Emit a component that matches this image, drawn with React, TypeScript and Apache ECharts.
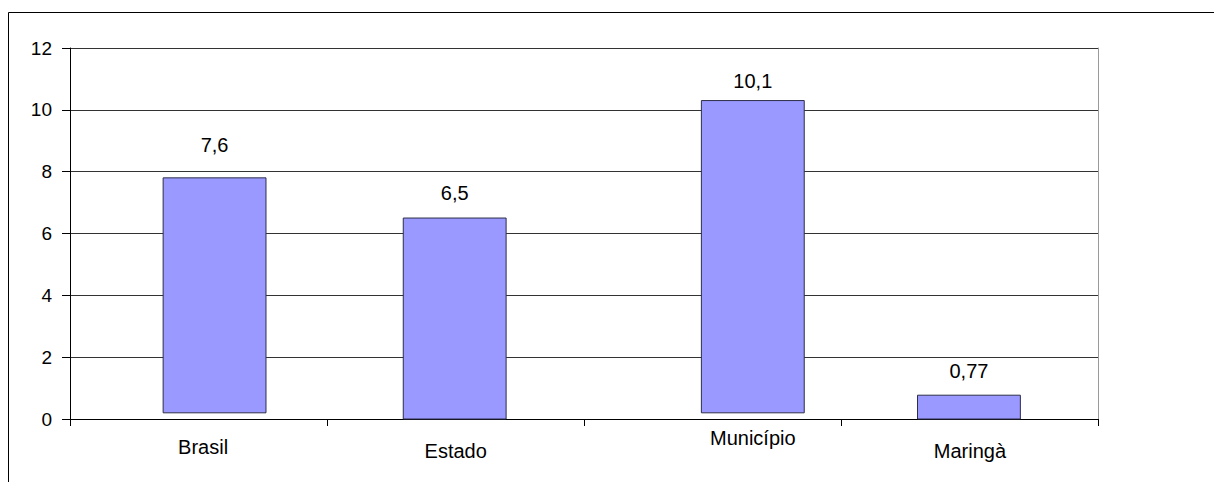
import React, { useEffect, useRef } from "react";
import * as echarts from "echarts";

// Data
const categories = ["Brasil", "Estado", "Município", "Maringà"];
const values = [7.6, 6.5, 10.1, 0.77];
const valueLabels = ["7,6", "6,5", "10,1", "0,77"];
const bases = [0.2, 0, 0.2, 0];
const yTicks = { min: 0, max: 12, interval: 2 };

// Styling (pixel nudges as in the reference layout)
const barShift = [16, -1, 40, -1];
const labelLift = [33, 25, 20, 24];
const catLabelPad = [
  [9, 0, 0, 9],
  [13, 0, 0, 0],
  [0, 0, 0, 80],
  [13, 0, 0, 0],
];

const FONT = "'Liberation Sans', Arial, sans-serif";

export default function App() {
  const ref = useRef<HTMLDivElement>(null);
  useEffect(() => {
    document.body.style.margin = "0";
    if (!ref.current) return;
    const chart = echarts.init(ref.current, undefined, { renderer: "svg" });
    const rich: Record<string, any> = {};
    catLabelPad.forEach((p, i) => {
      rich["c" + i] = {
        fontSize: 20,
        fontFamily: FONT,
        color: "#000",
        padding: p,
      };
    });
    chart.setOption({
      animation: false,
      backgroundColor: "#fff",
      textStyle: { fontFamily: FONT },
      grid: { left: 70, top: 48, right: 115.5, bottom: 63, containLabel: false },
      xAxis: {
        type: "category",
        data: categories,
        boundaryGap: true,
        axisLine: { show: true, lineStyle: { color: "#000", width: 1 } },
        axisTick: { show: true, length: 7, lineStyle: { color: "#000" } },
        axisLabel: {
          margin: 9,
          formatter: (v: string, i: number) => `{c${i}|${v}}`,
          rich,
        },
        splitLine: { show: false },
      },
      yAxis: [
        {
          type: "value",
          min: yTicks.min,
          max: yTicks.max,
          interval: yTicks.interval,
          axisLine: { show: true, lineStyle: { color: "#000", width: 1 } },
          axisTick: { show: true, length: 8, lineStyle: { color: "#000" } },
          axisLabel: {
            margin: 18,
            fontSize: 19,
            color: "#000",
            fontFamily: FONT,
          },
          splitLine: { show: true, lineStyle: { color: "#333", width: 1 } },
        },
        {
          type: "value",
          min: yTicks.min,
          max: yTicks.max,
          interval: yTicks.interval,
          position: "right",
          axisLine: { show: true, lineStyle: { color: "#9a9a9a", width: 1 } },
          axisTick: { show: false },
          axisLabel: { show: false },
          splitLine: { show: false },
        },
      ],
      series: [
        {
          type: "custom",
          xAxisIndex: 0,
          yAxisIndex: 0,
          data: values.map((v, i) => [i, bases[i], bases[i] + v]),
          renderItem: (params: any, api: any) => {
            const i = api.value(0);
            const lo = api.coord([i, api.value(1)]);
            const hi = api.coord([i, api.value(2)]);
            const w = api.size([1, 0])[0] * 0.4;
            const cx = lo[0] + barShift[i];
            return {
              type: "group",
              children: [
                {
                  type: "rect",
                  shape: { x: cx - w / 2, y: hi[1], width: w, height: lo[1] - hi[1] },
                  style: { fill: "#9999ff", stroke: "#2e2e4a", lineWidth: 1 },
                },
                {
                  type: "text",
                  style: {
                    x: cx,
                    y: hi[1] - labelLift[i],
                    text: valueLabels[i],
                    fill: "#000",
                    fontSize: 20,
                    fontFamily: FONT,
                    align: "center",
                    verticalAlign: "middle",
                  },
                },
              ],
            };
          },
        },
      ],
      graphic: [
        {
          type: "rect",
          shape: { x: 8.5, y: 12.5, width: 1400, height: 800 },
          style: { fill: "none", stroke: "#000", lineWidth: 1 },
          silent: true,
        },
      ],
    });
    return () => chart.dispose();
  }, []);
  return <div ref={ref} style={{ width: 1214, height: 482 }} />;
}
